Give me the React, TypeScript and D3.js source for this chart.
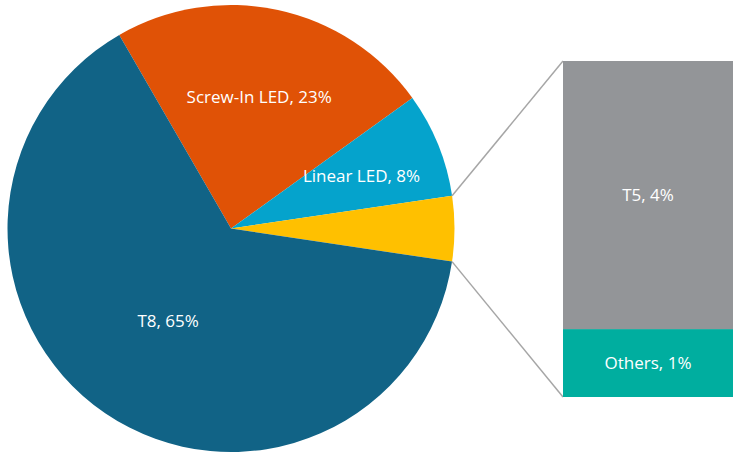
import React from "react";
import * as d3 from "d3";

const pieCategories = ["Screw-In LED", "Linear LED", "T5 + Others", "T8"];
const pieValues = [23.4, 7.6, 4.7, 64.3];
const pieLabels = ["Screw-In LED, 23%", "Linear LED, 8%", "", "T8, 65%"];

const barCategories = ["T5", "Others"];
const barValues = [3.75, 0.95];
const barLabels = ["T5, 4%", "Others, 1%"];

const pieColors = ["#E05206", "#05A3CC", "#FFC000", "#116386"];
const barColors = ["#939598", "#00AE9F"];
const labelRadiusFactor = [0.6, 0.63, 0.6, 0.5];

export default function App() {
  const W = 734, H = 456;
  const cx = 231, cy = 228.5, r = 223.5;
  const start = (-30 * Math.PI) / 180;

  const pie = d3.pie<number>().sort(null).startAngle(start).endAngle(start + 2 * Math.PI);
  const arcs = pie(pieValues);
  const arcGen = d3.arc<d3.PieArcDatum<number>>().innerRadius(0).outerRadius(r);

  const barX0 = 563, barX1 = 733;
  const barTotal = d3.sum(barValues);
  const y = d3.scaleLinear().domain([0, barTotal]).range([397, 61]);
  const stackOrder = [1, 0];
  let acc = 0;
  const barRects: { i: number; y0: number; y1: number }[] = [];
  stackOrder.forEach((i) => {
    barRects.push({ i, y0: acc, y1: acc + barValues[i] });
    acc += barValues[i];
  });

  const yellow = arcs[2];
  const pt = (a: number) => [cx + r * Math.sin(a), cy - r * Math.cos(a)];
  const [ax, ay] = pt(yellow.startAngle);
  const [bx, by] = pt(yellow.endAngle);

  const font = "'Open Sans', sans-serif";
  const fs = 17;

  return (
    <svg width={W} height={H} style={{ position: "absolute", left: 0, top: 0, background: "#fff" }}>
      <g transform={`translate(${cx},${cy})`}>
        {arcs.map((a, i) => (
          <path key={pieCategories[i]} d={arcGen(a) || ""} fill={pieColors[i]} />
        ))}
        {arcs.map((a, i) => {
          if (!pieLabels[i]) return null;
          const mid = (a.startAngle + a.endAngle) / 2;
          const lr = r * labelRadiusFactor[i];
          return (
            <text
              key={"l" + i}
              x={lr * Math.sin(mid)}
              y={-lr * Math.cos(mid)}
              dy="0.35em"
              textAnchor="middle"
              fill="#fff"
              fontFamily={font}
              fontSize={fs}
            >
              {pieLabels[i]}
            </text>
          );
        })}
      </g>
      <line x1={ax} y1={ay} x2={barX0} y2={y(barTotal)} stroke="#A6A6A6" strokeWidth={1.5} />
      <line x1={bx} y1={by} x2={barX0} y2={y(0)} stroke="#A6A6A6" strokeWidth={1.5} />
      {barRects.map((b) => (
        <g key={barCategories[b.i]}>
          <rect x={barX0} y={y(b.y1)} width={barX1 - barX0} height={y(b.y0) - y(b.y1)} fill={barColors[b.i]} />
          <text
            x={(barX0 + barX1) / 2}
            y={(y(b.y0) + y(b.y1)) / 2}
            dy="0.35em"
            textAnchor="middle"
            fill="#fff"
            fontFamily={font}
            fontSize={fs}
          >
            {barLabels[b.i]}
          </text>
        </g>
      ))}
    </svg>
  );
}
